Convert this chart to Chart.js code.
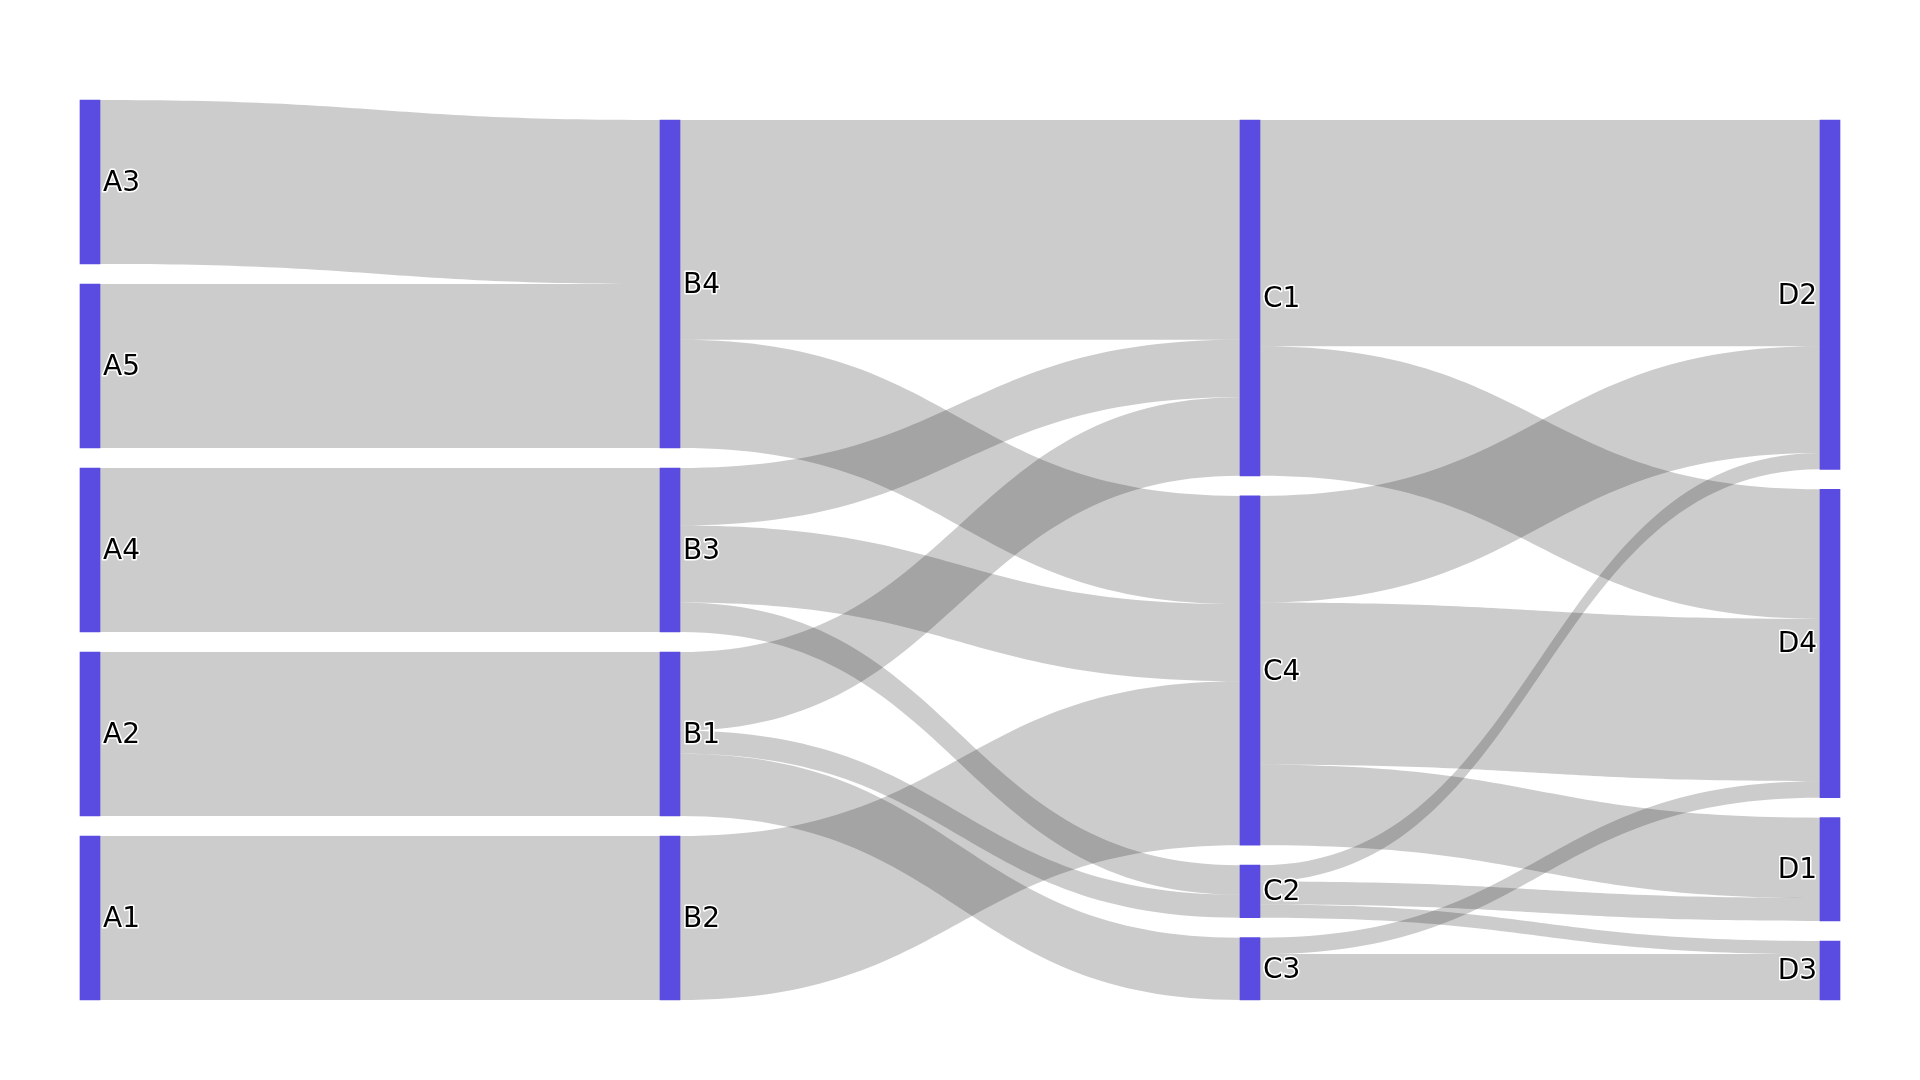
<!DOCTYPE html>
<html>
<head>
<meta charset="utf-8">
<style>
  html, body { margin: 0; padding: 0; background: #fff; }
  #wrap { width: 1920px; height: 1080px; position: relative; }
</style>
<script src="https://cdn.jsdelivr.net/npm/chart.js@4.4.1/dist/chart.umd.min.js"></script>
</head>
<body>
<div id="wrap"><canvas id="sankey"></canvas></div>
<script>
// nodes, top to bottom in each column
const columnA = ['A3', 'A5', 'A4', 'A2', 'A1'];
const columnB = ['B4', 'B3', 'B1', 'B2'];
const columnC = ['C1', 'C4', 'C2', 'C3'];
const columnD = ['D2', 'D4', 'D1', 'D3'];

// flows
const linkFrom = ['A3', 'A5', 'A4', 'A2', 'A1', 'B4', 'B4', 'B3', 'B3', 'B3', 'B1', 'B1', 'B1', 'B2',
                  'C1', 'C1', 'C4', 'C4', 'C4', 'C2', 'C2', 'C2', 'C3', 'C3'];
const linkTo   = ['B4', 'B4', 'B3', 'B1', 'B2', 'C1', 'C4', 'C1', 'C4', 'C2', 'C1', 'C2', 'C3', 'C4',
                  'D2', 'D4', 'D2', 'D4', 'D1', 'D2', 'D1', 'D3', 'D4', 'D3'];
const linkValues = [10, 10, 10, 10, 10, 13.4, 6.6, 3.5, 4.7, 1.8, 4.8, 1.4, 3.8, 10,
                    13.8, 7.9, 6.5, 9.9, 4.9, 1.0, 1.4, 0.8, 1.0, 2.8];

const nodeGap = 1.22 // space between nodes, in value units
const NODE_W = 20
const nodeColor = '#5a4ce0'
const linkColor = 'rgba(0,0,0,0.2)'

// layout: stack every column from the bottom
const columns = [columnA, columnB, columnC, columnD];
const nodes = {};
columns.forEach((col, ci) => col.forEach(name => {
    nodes[name] = { name, col: ci, inV: 0, outV: 0 };
}));
linkFrom.forEach((f, i) => {
    nodes[f].outV += linkValues[i];
    nodes[linkTo[i]].inV += linkValues[i];
});

let yMax = 0;
columns.forEach(col => {
    let y = 0;
    col.slice().reverse().forEach(name => {
        const n = nodes[name];
        n.value = Math.max(n.inV, n.outV);
        n.lo = y;
        n.hi = y + n.value;
        y = n.hi + nodeGap;
    });
    yMax = Math.max(yMax, y - nodeGap);
});

const links = linkFrom.map((f, i) => ({ from: nodes[f], to: nodes[linkTo[i]], value: linkValues[i] }));
Object.values(nodes).forEach(n => {
    let y = n.hi;
    links.filter(l => l.from === n).sort((a, b) => b.to.hi - a.to.hi).forEach(l => {
        l.sHi = y; l.sLo = y - l.value; y = l.sLo;
    });
    y = n.hi;
    links.filter(l => l.to === n).sort((a, b) => b.from.hi - a.from.hi).forEach(l => {
        l.tHi = y; l.tLo = y - l.value; y = l.tLo;
    });
});

const sankeyPlugin = {
    id: 'sankeyLinks',
    beforeDatasetsDraw(chart) {
        const { ctx, scales: { x, y } } = chart;
        ctx.save();
        ctx.fillStyle = linkColor;
        links.forEach(l => {
            const x0 = x.getPixelForValue(l.from.col) + NODE_W / 2;
            const x1 = x.getPixelForValue(l.to.col) - NODE_W / 2;
            const xm = (x0 + x1) / 2;
            const s0 = y.getPixelForValue(l.sHi), s1 = y.getPixelForValue(l.sLo);
            const t0 = y.getPixelForValue(l.tHi), t1 = y.getPixelForValue(l.tLo);
            ctx.beginPath();
            ctx.moveTo(x0, s0);
            ctx.bezierCurveTo(xm, s0, xm, t0, x1, t0);
            ctx.lineTo(x1, t1);
            ctx.bezierCurveTo(xm, t1, xm, s1, x0, s1);
            ctx.closePath();
            ctx.fill();
        });
        ctx.restore();
    },
    afterDatasetsDraw(chart) {
        const { ctx, scales: { x, y } } = chart;
        ctx.save();
        ctx.font = '28px "DejaVu Sans"';
        ctx.textBaseline = 'alphabetic';
        ctx.lineJoin = 'round';
        ctx.lineWidth = 3;
        ctx.strokeStyle = '#fff';
        ctx.fillStyle = '#000';
        Object.values(nodes).forEach(n => {
            const cx = x.getPixelForValue(n.col);
            const cy = (y.getPixelForValue(n.lo) + y.getPixelForValue(n.hi)) / 2 + 9;
            let tx;
            if (n.col === columns.length - 1) {
                ctx.textAlign = 'right';
                tx = cx - NODE_W / 2 - 3;
            } else {
                ctx.textAlign = 'left';
                tx = cx + NODE_W / 2 + 3;
            }
            ctx.strokeText(n.name, tx, cy);
            ctx.fillText(n.name, tx, cy);
        });
        ctx.restore();
    }
};

new Chart(document.getElementById('sankey'), {
    type: 'bar',
    data: {
        datasets: [{
            data: Object.values(nodes).map(n => ({ x: n.col, y: [n.lo, n.hi] })),
            backgroundColor: nodeColor,
            borderWidth: 0,
            barThickness: NODE_W,
            clip: false
        }]
    },
    options: {
        responsive: true,
        maintainAspectRatio: false,
        animation: false,
        layout: { padding: { left: 90, right: 90, top: 100, bottom: 80 } },
        plugins: { legend: { display: false }, tooltip: { enabled: false } },
        scales: {
            x: { type: 'linear', min: 0, max: 3, offset: false, display: false },
            y: { type: 'linear', min: 0, max: yMax, display: false }
        }
    },
    plugins: [sankeyPlugin]
});
</script>
</body>
</html>
